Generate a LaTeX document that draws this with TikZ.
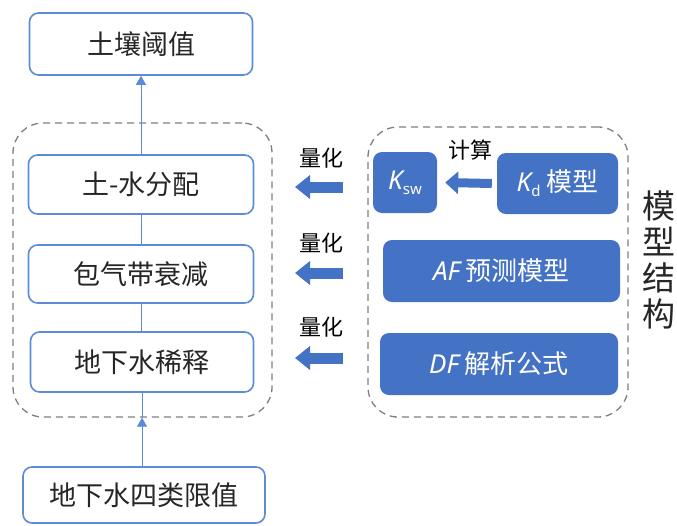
\documentclass[tikz,border=0pt]{standalone}
\usepackage{fontspec}
\setmainfont{Noto Sans CJK SC}
\newfontfamily\lat{Noto Sans}
\usetikzlibrary{arrows.meta}
\definecolor{bblue}{HTML}{4472C4}
\definecolor{lblue}{HTML}{5B8BD9}
\definecolor{dgray}{HTML}{7F7F7F}
\definecolor{txt}{HTML}{262626}
\begin{document}
\begin{tikzpicture}[x=1pt,y=-1pt,
 wbox/.style={draw=lblue, line width=1.6pt, rounded corners=9pt, fill=white, inner sep=0pt, font=\fontsize{27}{30}\selectfont, text=txt},
 fbox/.style={fill=bblue, rounded corners=9pt, inner sep=0pt, font=\fontsize{26}{30}\selectfont, text=white},
 cont/.style={draw=dgray, dash pattern=on 7pt off 5pt, line width=1.3pt, rounded corners=30pt, inner sep=0pt},
 link/.style={draw=lblue, line width=0.8pt},
 linkarrow/.style={link, -{Triangle[length=9pt,width=10pt]}},
 blk/.style={draw=bblue, line width=11pt, -{Triangle[length=15pt,width=23pt]}},
 blksmall/.style={draw=bblue, line width=9pt, -{Triangle[length=13pt,width=22pt]}},
 lbl/.style={font=\fontsize{22}{26}\selectfont, text=black, inner sep=0pt}]
\useasboundingbox (0,0) rectangle (677,525);
% containers
\node[cont, minimum width=259pt, minimum height=294pt] (L) at (142.5,270) {};
\node[cont, minimum width=260pt, minimum height=290pt] (R) at (498,272) {};
% left column
\node[wbox, minimum width=223pt, minimum height=62pt] (soil) at (141,44) {土壤阈值};
\node[wbox, minimum width=225pt, minimum height=59pt] (sw) at (141,184.5) {土-水分配};
\node[wbox, minimum width=225pt, minimum height=58pt] (vad) at (141,274) {包气带衰减};
\node[wbox, minimum width=223pt, minimum height=60pt] (gw) at (142,362) {地下水稀释};
\node[wbox, minimum width=242pt, minimum height=56pt] (lim) at (144,495) {地下水四类限值};
% right column
\node[fbox, minimum width=64pt, minimum height=61pt] (ksw) at (405,182.5) {{\lat\itshape K}{\lat\fontsize{15}{15}\selectfont\raisebox{-5pt}{sw}}};
\node[fbox, minimum width=121pt, minimum height=61pt] (kd) at (557.5,183.5) {{\lat\itshape K}{\lat\fontsize{15}{15}\selectfont\raisebox{-5pt}{d}} 模型};
\node[fbox, minimum width=237pt, minimum height=62pt] (af) at (501.5,271) {{\lat\itshape AF} 预测模型};
\node[fbox, minimum width=238pt, minimum height=62pt] (df) at (499,364) {{\lat\itshape DF} 解析公式};
% labels
\node[lbl] (q1) at (321,158) {量化};
\node[lbl] (q2) at (321,243) {量化};
\node[lbl] (q3) at (321,327) {量化};
\node[lbl] (calc) at (470,150) {计算};
\node[font=\fontsize{33}{36}\selectfont, text=txt, align=center, inner sep=0pt] (vt) at (659,260) {模\\型\\结\\构};
% left links
\draw[linkarrow] (sw.north) -- (soil.south);
\draw[link] (sw.south) -- (vad.north);
\draw[link] (vad.south) -- (vad.south |- gw.north);
\draw[link] (gw.south) -- (gw.south |- L.south);
\draw[linkarrow] (gw.south |- lim.north) -- (gw.south |- L.south);
% block arrows
\coordinate (a1s) at (343,187); \coordinate (a1e) at (295,187);
\coordinate (a2s) at (343,273); \coordinate (a2e) at (295,273);
\coordinate (a3s) at (343,358); \coordinate (a3e) at (295,358);
\draw[blk] (a1s) -- (a1e);
\draw[blk] (a2s) -- (a2e);
\draw[blk] (a3s) -- (a3e);
\draw[blksmall] ([xshift=-5pt]kd.west) -- ([xshift=8pt]ksw.east);
\end{tikzpicture}
\end{document}
